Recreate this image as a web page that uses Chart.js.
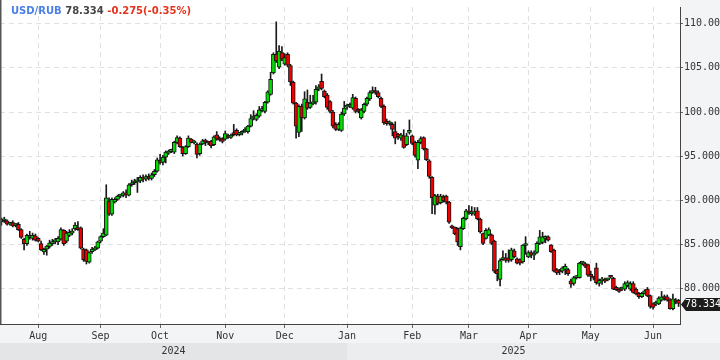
<!DOCTYPE html>
<html><head><meta charset="utf-8">
<script src="https://cdn.jsdelivr.net/npm/chart.js@4.4.1/dist/chart.umd.min.js"></script>
<style>html,body{margin:0;padding:0;background:#fff;overflow:hidden}#wrap{width:720px;height:360px}</style>
</head><body><div id="wrap"><canvas id="c" width="720" height="360"></canvas></div>
<script>
// ---- data ----
const symbol = "USD/RUB";
const lastText = "78.334";
const changeText = "-0.275(-0.35%)";
const monthNames = ["Jul","Aug","Sep","Oct","Nov","Dec","Jan","Feb","Mar","Apr","May","Jun"];
const monthYear = [0,0,0,0,0,0,1,1,1,1,1,1];
const yearNames = ["2024","2025"];
const candlesPerMonth = [13,22,21,23,21,22,23,20,21,22,22,10];
const yTicks = [80,85,90,95,100,105,110];

const open = [
 87.6,87.7,87.7,87.3,87.5,87.2,87.3,86.7,85.6,85.1,85.8,85.7,86.0,
 85.7,85.1,84.17,84.47,84.8,85.1,85.3,85.3,85.6,86.6,85.4,86.05,86.3,86.8,86.9,86.9,84.5,84.4,83.0,84.2,84.4,84.6,
 85.4,85.9,86.06,89.93,88.45,89.82,90.11,90.48,90.55,90.85,90.6,91.77,92.0,92.1,92.2,92.6,92.4,92.6,92.5,92.9,93.3,
 94.5,94.3,94.9,95.35,95.55,95.46,96.57,97.05,96.01,95.28,96.09,96.94,96.5,96.38,95.28,96.38,96.68,96.55,96.68,96.31,97.42,97.05,96.97,
 96.94,97.3,97.12,97.6,97.93,97.45,97.6,97.85,97.79,98.41,99.3,99.15,99.52,100.15,100.07,101.11,101.99,104.43,106.53,105.06,106.72,
 105.42,106.53,105.24,103.4,101.0,97.68,100.63,99.34,101.1,100.52,100.93,101.11,102.58,103.47,102.36,101.92,101.18,100.0,98.6,98.04,97.93,99.78,
 100.55,100.65,100.44,101.55,100.26,99.34,100.07,100.88,101.48,102.21,102.36,102.21,101.55,100.63,98.96,98.67,98.6,97.8,97.49,97.05,97.31,96.3,97.7,
 97.3,96.57,94.54,96.57,97.1,95.83,94.47,92.6,89.45,90.48,89.74,90.4,90.48,89.8,87.05,86.97,86.8,84.76,86.8,87.9,
 88.8,88.5,88.45,88.82,87.9,86.24,85.7,86.1,86.1,85.39,82.07,81.07,83.3,83.5,83.5,83.3,84.3,83.4,83.3,83.03,84.9,
 83.6,84.1,83.8,84.1,85.13,85.25,85.7,85.87,84.95,84.39,82.18,81.95,81.99,82.2,82.18,80.89,80.6,81.26,81.26,82.9,82.85,82.73,
 81.5,81.25,82.36,80.6,80.9,81.1,81.0,81.45,81.18,80.15,79.96,79.96,79.96,80.35,79.96,80.59,79.96,79.48,79.1,79.48,79.96,79.23,
 78.3,78.25,78.3,78.7,79.1,79.1,78.75,77.75,78.75,78.7
];
const high = [
 88.0,88.1,87.8,87.5,87.7,87.4,87.5,86.8,85.7,86.2,86.5,86.3,86.2,
 85.8,85.4,84.6,84.9,85.5,85.6,85.7,85.9,86.9,86.7,86.5,86.7,86.8,87.5,87.6,87.0,84.6,84.5,84.2,84.7,84.8,85.4,
 86.0,86.8,91.77,90.3,90.3,90.3,90.6,90.7,91.0,91.2,91.9,92.3,92.4,92.6,92.8,92.9,92.9,93.0,93.1,93.5,94.8,
 95.2,95.1,95.6,95.7,95.8,96.7,97.31,97.2,96.1,96.2,97.3,97.0,96.8,96.5,96.5,96.9,96.94,96.7,96.8,97.3,97.79,97.2,97.1,
 97.86,97.5,97.5,98.6,98.1,97.7,97.9,98.23,98.5,99.7,100.15,99.8,100.63,100.63,101.2,102.4,104.5,106.7,110.2,107.53,107.4,
 106.6,106.7,105.4,103.5,101.1,100.8,100.9,102.3,102.5,101.9,101.9,103.0,103.1,104.3,102.5,102.1,101.3,100.2,98.8,98.8,100.0,101.2,
 100.9,101.0,102.0,101.7,100.4,100.4,101.0,101.7,102.4,102.85,102.8,102.4,101.7,100.8,99.2,99.0,98.8,98.9,97.6,97.6,98.0,97.6,99.1,
 97.4,96.7,96.8,97.2,97.2,95.9,94.6,92.7,90.7,90.7,90.7,90.6,90.6,89.9,87.2,87.0,86.9,87.0,88.1,89.0,
 89.4,89.3,89.2,89.2,88.0,86.3,86.8,86.9,86.2,85.5,82.2,83.4,84.3,84.0,84.4,84.6,84.5,83.5,83.4,85.0,85.9,
 84.3,84.3,84.3,85.3,86.6,86.4,86.0,86.0,85.0,84.5,82.3,82.2,82.5,82.8,82.3,81.1,81.4,81.5,83.0,83.1,83.0,82.8,
 82.0,81.4,82.9,81.1,81.3,81.2,81.2,81.5,81.3,80.3,80.1,80.2,80.8,80.9,80.8,80.8,80.1,79.6,79.6,79.9,80.15,79.3,
 78.4,78.6,79.1,79.7,79.3,79.3,78.9,79.4,78.9,78.8
];
const low = [
 87.2,87.5,87.2,87.2,87.0,87.0,86.6,85.7,84.4,84.9,85.6,85.5,85.4,
 85.3,84.3,83.9,83.8,84.6,84.9,85.1,85.0,85.5,84.9,85.2,85.9,86.1,86.6,86.6,84.5,83.1,82.8,82.9,84.0,84.3,84.5,
 85.2,85.8,86.0,88.3,88.3,89.7,90.0,90.3,90.4,90.3,90.5,91.6,91.8,90.9,92.0,92.1,92.2,92.3,92.3,92.7,93.2,
 94.1,94.0,94.24,95.2,95.4,95.3,96.4,96.0,95.02,95.2,96.0,96.5,96.4,94.8,95.1,96.3,96.2,96.3,95.94,96.2,96.8,96.7,96.5,
 96.8,97.0,97.0,97.3,97.3,97.3,97.4,97.7,97.6,98.3,99.1,99.0,99.4,100.0,99.9,101.0,101.9,104.3,105.6,104.9,105.8,
 105.3,105.1,103.0,100.9,97.05,97.2,97.8,99.2,100.3,100.4,100.8,100.9,102.4,102.5,101.6,100.3,99.9,98.2,97.9,97.9,97.8,99.6,
 100.3,100.5,100.3,99.9,99.9,99.2,99.9,100.7,101.3,102.1,102.0,101.6,100.5,98.6,98.5,98.5,97.3,96.4,96.9,96.8,95.9,96.2,97.5,
 96.3,94.9,93.6,96.4,95.7,94.5,92.5,88.5,88.45,89.5,89.6,89.8,89.6,87.4,86.8,86.1,84.9,84.4,86.7,87.8,
 88.4,88.3,88.3,87.8,86.3,85.0,85.6,86.0,85.0,81.8,80.9,80.33,83.2,83.0,83.0,83.1,83.5,82.8,82.7,82.9,83.9,
 83.5,83.5,83.3,84.0,85.0,85.1,85.2,85.4,84.1,81.9,81.6,81.6,81.8,81.6,81.5,80.15,80.4,81.1,81.2,82.7,82.4,81.4,
 80.9,81.0,80.5,80.3,80.5,80.7,80.9,81.2,79.9,79.8,79.6,79.8,79.8,80.2,79.8,79.5,79.3,78.9,79.0,79.4,79.1,77.8,
 77.7,78.1,78.2,78.6,78.7,78.6,77.7,77.6,78.3,78.0
];
const close = [
 87.7,87.75,87.3,87.4,87.1,87.3,86.7,85.8,85.1,86.05,85.95,86.05,85.5,
 85.4,84.4,84.47,84.84,85.2,85.3,85.5,85.7,86.7,85.1,86.3,86.4,86.5,87.2,86.7,84.6,83.3,83.1,84.1,84.5,84.6,85.3,
 85.9,86.3,90.3,88.45,90.11,90.11,90.48,90.55,90.85,90.6,91.77,91.96,92.1,92.2,92.6,92.4,92.7,92.5,92.9,93.3,94.6,
 94.3,94.9,95.46,95.57,95.65,96.57,97.12,96.09,95.28,96.09,97.05,96.57,96.68,95.2,96.38,96.75,96.6,96.49,96.2,97.19,96.94,96.83,96.68,
 97.56,97.12,97.38,97.45,97.42,97.6,97.79,97.9,98.41,99.26,99.35,99.63,100.26,100.26,101.11,102.29,103.69,106.53,105.79,106.9,105.98,
 106.16,105.31,103.4,101.0,98.4,100.63,99.34,101.48,100.44,101.0,101.1,102.58,102.84,102.66,101.73,100.52,100.07,98.41,98.04,98.6,99.78,100.44,
 100.65,100.75,101.63,100.07,100.07,100.26,100.88,101.55,102.21,102.36,102.21,101.73,100.63,98.78,98.67,98.89,98.04,97.05,97.2,97.42,96.0,97.3,97.8,
 96.45,95.1,96.57,97.0,95.83,94.61,92.7,90.3,90.55,89.67,90.48,89.93,89.8,87.53,86.9,86.24,85.3,86.86,87.97,88.82,
 88.6,88.6,88.7,87.9,86.42,85.13,86.6,86.7,85.13,81.99,81.7,83.18,83.5,83.2,83.2,84.4,83.6,82.9,82.9,84.95,85.0,
 84.1,83.8,84.0,85.13,85.87,85.87,85.8,85.5,84.2,82.0,81.8,81.9,82.36,82.55,81.7,80.52,81.26,81.3,82.9,82.95,82.55,81.55,
 81.4,81.2,80.7,80.95,81.1,80.85,81.05,81.3,79.96,79.9,79.7,80.0,80.59,80.7,80.59,79.6,79.41,79.1,79.48,79.78,79.2,78.0,
 77.9,78.5,78.96,79.1,78.9,78.7,77.75,78.86,78.5,78.334
];

// ---- tables built from the arrays ----
const labels = [];
const monthStartIdx = [];
const yearStartIdx = [];
let n = 0;
monthNames.forEach((m, k) => {
  if (k === 0 || monthYear[k] !== monthYear[k - 1]) yearStartIdx.push(n);
  monthStartIdx.push(n);
  for (let d = 0; d < candlesPerMonth[k]; d++) { labels.push(m + " " + yearNames[monthYear[k]] + " #" + (d + 1)); n++; }
});
const wicks = low.map((l, i) => [l, high[i]]);
const bodies = open.map((o, i) => [o, close[i]]);
const UP = "#00dc00", DOWN = "#ee0000";
const bodyColors = open.map((o, i) => close[i] >= o ? UP : DOWN);

const FONT = "DejaVu Sans Mono";
const decor = {
  id: "decor",
  beforeDraw(chart) {
    const { ctx, chartArea: a, width, height } = chart;
    ctx.save();
    ctx.fillStyle = "#ffffff"; ctx.fillRect(0, 0, width, height);
    ctx.fillStyle = "#f3f4f6";
    ctx.fillRect(a.right, 0, width - a.right, height);
    ctx.fillRect(0, a.bottom, width, height - a.bottom);
    const split = Math.round(chart.scales.x.getPixelForValue(yearStartIdx[1]));
    const bandTop = a.bottom + 19;
    ctx.fillStyle = "#e4e5e7"; ctx.fillRect(0, bandTop, split, height - bandTop);
    ctx.fillStyle = "#ecedef"; ctx.fillRect(split, bandTop, width - split, height - bandTop);
    ctx.restore();
  },
  afterDraw(chart) {
    const { ctx, chartArea: a, width, height } = chart;
    const xs = chart.scales.x, ys = chart.scales.y;
    ctx.save();
    ctx.fillStyle = "#555"; ctx.fillRect(0, 0, 1.5, a.bottom);
    const split = xs.getPixelForValue(yearStartIdx[1]);
    const bandTop = a.bottom + 19;
    ctx.font = "10px " + FONT; ctx.fillStyle = "#333"; ctx.textAlign = "center"; ctx.textBaseline = "middle";
    ctx.fillText(yearNames[0], split / 2, (bandTop + height) / 2);
    ctx.fillText(yearNames[1], (split + a.right) / 2, (bandTop + height) / 2);
    ctx.textAlign = "left";
    ctx.font = "bold 10px DejaVu Sans";
    let x = 11; const ty = 11;
    ctx.fillStyle = "#4a80e8"; ctx.fillText(symbol, x, ty); x += ctx.measureText(symbol + " ").width;
    ctx.fillStyle = "#454545"; ctx.fillText(lastText, x, ty); x += ctx.measureText(lastText + " ").width;
    ctx.fillStyle = "#e5331c"; ctx.fillText(changeText, x, ty);
    const yv = Math.round(ys.getPixelForValue(close[close.length - 1])) + 0.5;
    ctx.fillStyle = "#1c1c1c";
    ctx.beginPath();
    ctx.moveTo(a.right + 1, yv); ctx.lineTo(a.right + 6, yv - 6.5); ctx.lineTo(width, yv - 6.5);
    ctx.lineTo(width, yv + 6.5); ctx.lineTo(a.right + 6, yv + 6.5); ctx.closePath(); ctx.fill();
    ctx.fillStyle = "#ffffff"; ctx.font = "10px " + FONT; ctx.textBaseline = "middle";
    ctx.fillText(lastText, a.right + 5, yv);
    ctx.restore();
  }
};

new Chart(document.getElementById("c"), {
  type: "bar",
  data: {
    labels,
    datasets: [
      { label: "wick", data: wicks, backgroundColor: "#1a1a1a", barThickness: 1, grouped: false, order: 2, minBarLength: 1 },
      { label: "body", data: bodies, backgroundColor: bodyColors, borderColor: "#141414", borderWidth: 1, borderSkipped: false,
        barThickness: 4, grouped: false, order: 1, minBarLength: 2 }
    ]
  },
  options: {
    responsive: false, animation: false, devicePixelRatio: 1,
    layout: { padding: 0 },
    plugins: { legend: { display: false }, tooltip: { enabled: false } },
    scales: {
      x: {
        type: "category", offset: true,
        afterBuildTicks: s => { s.ticks = monthStartIdx.slice(1).map(v => ({ value: v })); },
        afterFit: s => { s.height = 36; },
        ticks: { autoSkip: false, maxRotation: 0, minRotation: 0, padding: 2, color: "#333",
          font: { family: FONT, size: 10 },
          callback: v => monthNames[monthStartIdx.indexOf(v)] },
        grid: { offset: false, color: "#e0e0e0", lineWidth: 1, drawTicks: true, tickLength: 4, tickColor: "#666", tickBorderDash: [] },
        border: { display: true, color: "#444", width: 1, dash: [5, 4] }
      },
      y: {
        position: "right", min: 76.015, max: 111.882,
        afterBuildTicks: s => { s.ticks = yTicks.map(v => ({ value: v })); },
        afterFit: s => { s.width = 40; },
        ticks: { padding: 1, color: "#333", font: { family: FONT, size: 10 }, callback: v => Number(v).toFixed(3) },
        grid: { color: "#e0e0e0", lineWidth: 1, tickLength: 3, tickColor: "#666", tickBorderDash: [] },
        border: { display: true, color: "#444", width: 1, dash: [5, 4] }
      }
    }
  },
  plugins: [decor]
});
</script>
</body></html>
